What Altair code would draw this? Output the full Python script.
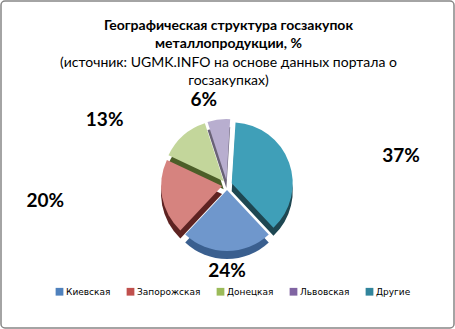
import math
import altair as alt
import pandas as pd

regions = ["Киевская", "Запорожская", "Донецкая", "Львовская", "Другие"]
shares = [24, 20, 13, 6, 37]
labels = ["24%", "20%", "13%", "6%", "37%"]
top_colors = ["#6f97cc", "#d6837f", "#c3d69b", "#b8aecf", "#3f9fb8"]
side_colors = ["#3a5f8f", "#5e2322", "#4c5e28", "#6a6377", "#1e4752"]
legend_colors = ["#4f81bd", "#c0504d", "#9bbb59", "#8064a2", "#31859c"]

title_lines = ["Географическая структура госзакупок", "металлопродукции, %"]
source_lines = ["(источник: UGMK.INFO на основе данных портала о", "госзакупках)"]

W, H = 453, 327
CX, CY = 226, 184
R = 61
EXPLODE = 5
DEPTH = 8
LABEL_RX = 185
LABEL_RY = 86
START = math.radians(136.8)

df = pd.DataFrame({
    "region": regions,
    "share": shares,
    "label": labels,
    "order": list(range(len(regions))),
})

base = alt.Chart(df).transform_window(
    cum="sum(share)", sort=[alt.SortField("order")], frame=[None, 0]
).transform_joinaggregate(total="sum(share)").transform_calculate(
    t0=f"{START} + (datum.cum - datum.share) / datum.total * 2 * PI",
    t1=f"{START} + datum.cum / datum.total * 2 * PI",
).transform_calculate(
    mid="(datum.t0 + datum.t1) / 2"
).transform_calculate(
    px=f"{CX} + {EXPLODE} * sin(datum.mid)",
    py=f"{CY} - {EXPLODE} * cos(datum.mid)",
    pys=f"{CY} + {DEPTH} - {EXPLODE} * cos(datum.mid)",
    lx=f"{CX} + {LABEL_RX} * sin(datum.mid)",
    ly=f"{CY} - {LABEL_RY} * cos(datum.mid)",
)

side = base.mark_arc(outerRadius=R).encode(
    theta=alt.Theta("t0:Q", scale=None),
    theta2="t1:Q",
    x=alt.X("px:Q", scale=None),
    y=alt.Y("pys:Q", scale=None),
    color=alt.Color("region:N", scale=alt.Scale(domain=regions, range=side_colors), legend=None),
)

top = base.mark_arc(outerRadius=R).encode(
    theta=alt.Theta("t0:Q", scale=None),
    theta2="t1:Q",
    x=alt.X("px:Q", scale=None),
    y=alt.Y("py:Q", scale=None),
    fill=alt.Fill("region:N", scale=alt.Scale(domain=regions, range=top_colors), legend=None),
)

legend_layer = base.mark_square(opacity=0).encode(
    x=alt.X("px:Q", scale=None),
    y=alt.Y("py:Q", scale=None),
    fill=alt.Fill(
        "region:N",
        scale=alt.Scale(domain=regions, range=legend_colors),
        legend=alt.Legend(
            title=None, orient="none", direction="horizontal",
            legendX=54, legendY=286, symbolType="square", symbolSize=60,
            symbolStrokeWidth=0, symbolOpacity=1,
            labelFont="DejaVu Sans", labelFontSize=9, labelColor="#000000",
            columnPadding=15, labelOffset=2,
        ),
    ),
)

text_layer = base.mark_text(
    font="Lato", fontSize=19, fontWeight="bold", color="#000000", baseline="middle", align="center"
).encode(
    x=alt.X("lx:Q", scale=None),
    y=alt.Y("ly:Q", scale=None),
    text="label:N",
)

title_df = pd.DataFrame({"line": title_lines, "row": [0, 1]})
source_df = pd.DataFrame({"line": source_lines, "row": [0, 1]})

title_layer = alt.Chart(title_df).transform_calculate(
    ty="25 + datum.row * 18"
).mark_text(font="Lato", fontSize=14, fontWeight="bold", color="#000000", align="center", baseline="middle").encode(
    x=alt.value(W / 2 + 1), y=alt.Y("ty:Q", scale=None), text="line:N"
)
source_layer = alt.Chart(source_df).transform_calculate(
    ty="62 + datum.row * 18"
).mark_text(font="Lato", fontSize=14, color="#000000", align="center", baseline="middle").encode(
    x=alt.value(W / 2 + 1), y=alt.Y("ty:Q", scale=None), text="line:N"
)

chart = alt.layer(side, top, legend_layer, text_layer, title_layer, source_layer).resolve_scale(
    color="independent", fill="independent"
).properties(
    width=W, height=H,
    padding={"left": 1, "top": 1, "right": 1, "bottom": 1},
    autosize=alt.AutoSizeParams(type="none"),
    background="white",
).configure_view(stroke="#868686", strokeWidth=1.5, cornerRadius=4)

chart.save("out.html", embed_options={"renderer": "svg", "actions": False})
